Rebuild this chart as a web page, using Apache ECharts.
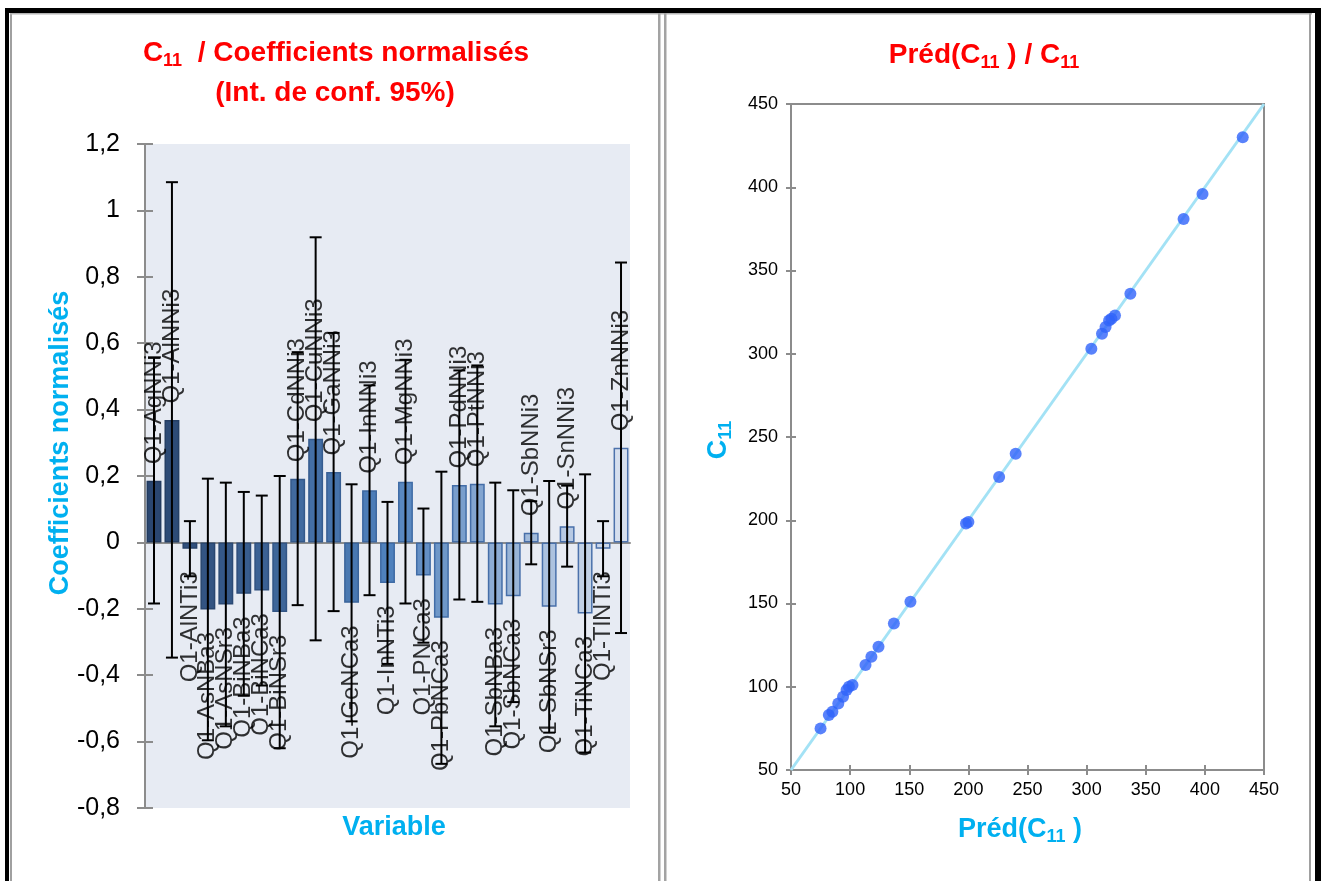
<!DOCTYPE html>
<html>
<head>
<meta charset="utf-8">
<script src="https://cdn.jsdelivr.net/npm/echarts@6/dist/echarts.min.js"></script>
<style>
  html, body { margin: 0; padding: 0; background: #ffffff; }
  #chart { width: 1324px; height: 881px; }
</style>
</head>
<body>
<div id="chart"></div>
<script>
// Normalised coefficients of the C11 model with their 95% confidence half-widths
const variables = [
  'Q1-AgNNi3', 'Q1-AlNNi3', 'Q1-AlNTi3', 'Q1-AsNBa3', 'Q1-AsNSr3', 'Q1-BiNBa3', 'Q1-BiNCa3',
  'Q1-BiNSr3', 'Q1-CdNNi3', 'Q1-CuNNi3', 'Q1-GaNNi3', 'Q1-GeNCa3', 'Q1-InNNi3', 'Q1-InNTi3',
  'Q1-MgNNi3', 'Q1-PNCa3', 'Q1-PbNCa3', 'Q1-PdNNi3', 'Q1-PtNNi3', 'Q1-SbNBa3', 'Q1-SbNCa3',
  'Q1-SbNNi3', 'Q1-SbNSr3', 'Q1-SnNNi3', 'Q1-TiNCa3', 'Q1-TlNTi3', 'Q1-ZnNNi3'
];
const coefficients = [
  0.186, 0.369, -0.019, -0.202, -0.187, -0.155, -0.145,
  -0.210, 0.192, 0.312, 0.212, -0.182, 0.157, -0.122,
  0.183, -0.100, -0.227, 0.173, 0.177, -0.187, -0.162,
  0.029, -0.194, 0.049, -0.214, -0.019, 0.285
];
const halfWidths = [
  0.370, 0.716, 0.083, 0.394, 0.367, 0.307, 0.286,
  0.410, 0.381, 0.607, 0.419, 0.357, 0.316, 0.244,
  0.367, 0.202, 0.440, 0.345, 0.356, 0.367, 0.319,
  0.095, 0.379, 0.122, 0.419, 0.083, 0.558
];
const coefAxis = [-0.8, 1.2, 0.2];   // min, max, step

// Predicted vs observed C11
const predicted = [
  75, 82, 85, 90, 94, 97, 99, 102, 113, 118, 124, 137, 151, 198,
  200, 226, 240, 304, 313, 316, 319, 321, 324, 337, 382, 398, 432
];
const observed = [
  75, 83, 85, 90, 94, 98, 100, 101, 113, 118, 124, 138, 151, 198,
  199, 226, 240, 303, 312, 316, 320, 321, 323, 336, 381, 396, 430
];
const c11Axis = [50, 450, 50];       // min, max, step
const identityLine = [50, 450];

// ---- styling helpers ----
function hexToRgb(h) { return [1, 3, 5].map(i => parseInt(h.substr(i, 2), 16)); }
function mix(a, b, t) {
  const A = hexToRgb(a), B = hexToRgb(b);
  return 'rgb(' + A.map((v, i) => Math.round(v + (B[i] - v) * t)).join(',') + ')';
}
function ramp(stops, t) {
  if (t <= 0.5) return mix(stops[0], stops[1], t / 0.5);
  return mix(stops[1], stops[2], (t - 0.5) / 0.5);
}
const fillStops = ['#2A4670', '#4F81BD', '#D6DFEE'];
const edgeStops = ['#233B5F', '#3F6BA5', '#4D72AC'];

const GRAY = '#8C8C8C';
const CYAN = '#00B0F0';
const RED = '#FF0000';
const commaFmt = v => String(+v.toFixed(1)).replace('.', ',');

const barData = coefficients.map((v, i) => {
  const t = i / (coefficients.length - 1);
  return {
    value: v,
    itemStyle: { color: ramp(fillStops, t), borderColor: ramp(edgeStops, t), borderWidth: 1.5 }
  };
});

const labelData = coefficients.map((v, i) => ({
  value: [i, v],
  label: v >= 0
    ? { position: 'top', distance: 16, align: 'left', verticalAlign: 'middle' }
    : { position: 'bottom', distance: 22, align: 'right', verticalAlign: 'middle' }
}));

const errorData = coefficients.map((v, i) => [i, v - halfWidths[i], v + halfWidths[i]]);

const chart = echarts.init(document.getElementById('chart'), null, { renderer: 'canvas' });

function richSet(color, size, subSize, lh) {
  return {
    m: { fontFamily: 'Liberation Sans', fontWeight: 'bold', fontSize: size, lineHeight: lh, fill: color },
    s: { fontFamily: 'Liberation Sans', fontWeight: 'bold', fontSize: subSize, lineHeight: 12, verticalAlign: 'bottom', fill: color }
  };
}
const titleRich = richSet(RED, 28, 18, 34);
const nameRich = richSet(CYAN, 27, 18, 32);

function gtext(x, y, text, rich, rotation) {
  return {
    type: 'text', x: x, y: y, rotation: rotation || 0, z: 10,
    style: { text: text, rich: rich, align: 'center', verticalAlign: 'middle' }
  };
}

const option = {
  backgroundColor: '#ffffff',
  animation: false,
  grid: [
    { left: 145, top: 144, width: 485, height: 664, show: true, backgroundColor: '#E7EBF3', borderWidth: 0 },
    { left: 791, top: 104, width: 473, height: 666, show: true, backgroundColor: 'rgba(0,0,0,0)', borderColor: GRAY, borderWidth: 2 }
  ],
  xAxis: [
    {
      gridIndex: 0, type: 'category', data: variables,
      axisLine: { onZero: true, lineStyle: { color: GRAY, width: 2 } },
      axisTick: { show: false }, axisLabel: { show: false }, splitLine: { show: false }
    },
    {
      gridIndex: 1, type: 'value', position: 'bottom', min: c11Axis[0], max: c11Axis[1], interval: c11Axis[2],
      axisLine: { onZero: false, lineStyle: { color: GRAY, width: 2 } },
      axisTick: { show: true, length: 5, lineStyle: { color: GRAY, width: 2 } },
      axisLabel: { margin: 11, fontFamily: 'Liberation Sans', fontSize: 18, color: '#000' },
      splitLine: { show: false }
    },
    {
      gridIndex: 1, type: 'value', position: 'bottom', min: c11Axis[0], max: c11Axis[1], interval: c11Axis[2],
      axisLine: { show: false, onZero: false },
      axisTick: { show: true, inside: true, length: 5, lineStyle: { color: GRAY, width: 2 } },
      axisLabel: { show: false }, splitLine: { show: false }
    }
  ],
  yAxis: [
    {
      gridIndex: 0, type: 'value', position: 'left', min: coefAxis[0], max: coefAxis[1], interval: coefAxis[2],
      axisLine: { show: true, onZero: false, lineStyle: { color: GRAY, width: 2 } },
      axisTick: { show: true, length: 8, lineStyle: { color: GRAY, width: 2 } },
      axisLabel: { margin: 25, fontFamily: 'Liberation Sans', fontSize: 25, color: '#000', formatter: commaFmt },
      splitLine: { show: false }
    },
    {
      gridIndex: 0, type: 'value', position: 'left', min: coefAxis[0], max: coefAxis[1], interval: coefAxis[2],
      axisLine: { show: false, onZero: false },
      axisTick: { show: true, inside: true, length: 8, lineStyle: { color: GRAY, width: 2 } },
      axisLabel: { show: false }, splitLine: { show: false }
    },
    {
      gridIndex: 1, type: 'value', position: 'left', min: c11Axis[0], max: c11Axis[1], interval: c11Axis[2],
      axisLine: { show: true, onZero: false, lineStyle: { color: GRAY, width: 2 } },
      axisTick: { show: true, length: 5, lineStyle: { color: GRAY, width: 2 } },
      axisLabel: { margin: 13, fontFamily: 'Liberation Sans', fontSize: 18, color: '#000' },
      splitLine: { show: false }
    },
    {
      gridIndex: 1, type: 'value', position: 'left', min: c11Axis[0], max: c11Axis[1], interval: c11Axis[2],
      axisLine: { show: false, onZero: false },
      axisTick: { show: true, inside: true, length: 5, lineStyle: { color: GRAY, width: 2 } },
      axisLabel: { show: false }, splitLine: { show: false }
    }
  ],
  series: [
    {
      type: 'bar', xAxisIndex: 0, yAxisIndex: 0, data: barData,
      barCategoryGap: '17%', z: 2, silent: true
    },
    {
      type: 'custom', xAxisIndex: 0, yAxisIndex: 0, data: errorData, z: 3, silent: true,
      encode: { x: 0, y: [1, 2] },
      renderItem: function (params, api) {
        const lo = api.coord([api.value(0), api.value(1)]);
        const hi = api.coord([api.value(0), api.value(2)]);
        const cap = 6;
        const st = { stroke: '#000000', lineWidth: 2 };
        return {
          type: 'group',
          children: [
            { type: 'line', shape: { x1: hi[0], y1: hi[1], x2: lo[0], y2: lo[1] }, style: st },
            { type: 'line', shape: { x1: hi[0] - cap, y1: hi[1], x2: hi[0] + cap, y2: hi[1] }, style: st },
            { type: 'line', shape: { x1: lo[0] - cap, y1: lo[1], x2: lo[0] + cap, y2: lo[1] }, style: st }
          ]
        };
      }
    },
    {
      type: 'scatter', xAxisIndex: 0, yAxisIndex: 0, data: labelData, z: 4, silent: true,
      symbolSize: 1, itemStyle: { color: 'rgba(0,0,0,0)' },
      label: {
        show: true, rotate: 90, color: '#000000', fontFamily: 'Liberation Sans', fontSize: 24,
        formatter: p => variables[p.dataIndex]
      }
    },
    {
      type: 'line', xAxisIndex: 1, yAxisIndex: 2, silent: true, z: 2,
      data: [[identityLine[0], identityLine[0]], [identityLine[1], identityLine[1]]],
      symbol: 'none', lineStyle: { color: '#A3E2F5', width: 3 }
    },
    {
      type: 'scatter', xAxisIndex: 1, yAxisIndex: 2, silent: true, z: 3,
      data: predicted.map((p, i) => [p, observed[i]]),
      symbolSize: 12, itemStyle: { color: '#2F63FA' }
    }
  ],
  graphic: [
    // panel frame
    { type: 'rect', shape: { x: 5, y: 8, width: 1316, height: 5 }, style: { fill: '#000' } },
    { type: 'rect', shape: { x: 5, y: 8, width: 4, height: 873 }, style: { fill: '#000' } },
    { type: 'rect', shape: { x: 1315, y: 8, width: 6, height: 873 }, style: { fill: '#000' } },
    { type: 'rect', shape: { x: 10, y: 13, width: 2, height: 868 }, style: { fill: '#A0A0A0' } },
    { type: 'rect', shape: { x: 10, y: 13, width: 1302, height: 1.5 }, style: { fill: '#B4B4B4' } },
    { type: 'rect', shape: { x: 658, y: 13, width: 2.5, height: 868 }, style: { fill: '#A3A3A3' } },
    { type: 'rect', shape: { x: 664, y: 13, width: 2.5, height: 868 }, style: { fill: '#A3A3A3' } },
    { type: 'rect', shape: { x: 1309, y: 13, width: 2, height: 868 }, style: { fill: '#A0A0A0' } },
    // titles
    gtext(336, 53, '{m|C}{s|11}{m|  / Coefficients normalisés}', titleRich),
    gtext(335, 93, '{m|(Int. de conf. 95%)}', titleRich),
    gtext(984, 55, '{m|Préd(C}{s|11}{m| ) / C}{s|11}', titleRich),
    // axis names
    gtext(394, 828, '{m|Variable}', nameRich),
    gtext(61, 443, '{m|Coefficients normalisés}', nameRich, Math.PI / 2),
    gtext(1020, 830, '{m|Préd(C}{s|11}{m| )}', nameRich),
    gtext(719, 440, '{m|C}{s|11}', nameRich, Math.PI / 2)
  ]
};

chart.setOption(option);
</script>
</body>
</html>
